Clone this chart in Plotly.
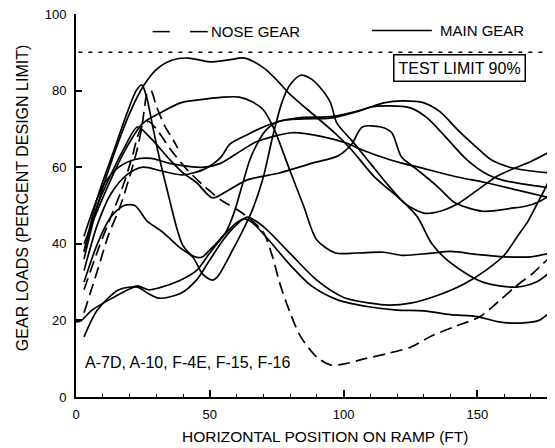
import plotly.graph_objs as go

# --- main gear curves (ft on ramp, percent of design limit) ---
plateau_x = [3, 8, 14, 20, 25, 30, 36, 42, 50, 57, 63, 70, 74, 80, 86.6, 96.6, 103, 111.6, 121.6, 127.6, 133, 140, 152, 164.5, 172, 177]
plateau_y = [36, 50, 63, 74, 81, 85.5, 88, 88.5, 87.5, 88, 88.5, 86, 83.5, 79, 75, 69, 64.5, 57.4, 51.4, 47, 40, 35, 30, 28.7, 30, 32.5]

flat37_x = [3, 10, 18, 25, 31, 39, 45, 55, 61, 66, 70, 74, 80, 85, 90, 97, 105, 115, 122, 132, 140, 150, 160, 170, 177]
flat37_y = [40, 52, 64, 71.5, 74, 76.8, 77.5, 78.3, 78.3, 77, 75, 70, 59, 50, 41, 37.6, 37.6, 37.8, 37, 37.5, 38, 37.2, 36.6, 36.6, 37.5]

decline_x = [3, 10, 16, 22, 28, 35, 42, 48, 54, 61, 67, 73.5, 81, 92, 101, 107, 117, 122, 128, 142, 153, 165, 177]
decline_y = [42, 55, 60, 62, 62.3, 61, 60.2, 60, 61, 64, 66.5, 68, 69, 68, 66.3, 64.5, 62, 61, 60, 57.5, 56, 54, 52]

bump_x = [3, 8, 13, 18, 23, 28, 35, 40, 45, 51, 57, 64, 76, 88, 98, 103, 107, 114, 118, 121.6, 127.6, 135, 141, 146, 152, 156, 162, 168, 173, 177]
bump_y = [38, 50, 58, 65, 70.5, 67.5, 62, 58.5, 56, 52, 54, 56.7, 58.5, 61, 63, 66, 70.5, 70.5, 69, 62.7, 59.3, 55, 51, 49.5, 48.5, 48.6, 49.2, 49.8, 51, 52.7]

peak84_x = [3, 8, 13, 18, 22, 26.5, 32.5, 38.8, 43.7, 47.4, 51, 53, 56, 59, 62, 66, 70, 73.5, 77, 80, 84, 88, 91, 95, 97.5, 103, 110, 117, 123, 130, 136, 143, 150, 157, 163, 170, 177]
peak84_y = [30, 40, 47, 50, 50, 46, 43, 39, 36.5, 32, 30.5, 31.5, 35, 39, 43, 49, 57.4, 68, 77, 81.5, 84, 83, 81, 77, 71.5, 67, 61, 55, 50.5, 48, 48.5, 50.6, 54, 57.5, 59.5, 61.5, 64]

hump1_x = [3, 8, 13, 19, 25, 32, 40, 48, 54, 57.5, 64, 70, 76, 85, 95, 107, 115, 122, 130, 136, 143, 150, 155, 162, 170, 177]
hump1_y = [33, 45, 53, 58, 60, 59, 58, 59.5, 62.5, 66, 68.5, 70.5, 72, 73, 73.2, 75, 76.8, 77.3, 76.8, 74.5, 69.5, 65, 62, 60, 59, 58.5]

hump2_x = [3, 8, 14, 19, 22.5, 24.6, 26.5, 28.7, 31.3, 35, 37.7, 40, 43.7, 47, 50, 53, 56, 59, 62, 65, 68, 71, 76, 85, 95, 105, 110, 117, 125, 131, 138, 146, 154, 160, 168, 177]
hump2_y = [38, 52, 64, 74, 80, 81.5, 78, 70.5, 62, 51.4, 44, 39.5, 36.8, 36.5, 38.4, 40.5, 43, 48, 55, 62, 66.5, 69.7, 72, 72.6, 72.8, 74.5, 75.7, 76, 75.5, 73, 68, 62, 58, 56.5, 55.5, 54.6]

low20_x = [0, 2, 6, 14, 20, 23, 27, 31, 39, 45, 50, 55, 60, 63, 66, 72, 80, 88, 98, 110, 120, 130, 140, 150, 158, 166, 173, 177]
low20_y = [19.6, 20, 22.7, 26, 28.2, 29, 28, 28.5, 30.5, 33, 37.6, 42, 45.5, 46.5, 45.5, 41, 34.5, 29, 25.3, 23.5, 22.7, 22.5, 21.5, 21, 19.6, 19.3, 20, 22]

low15_x = [3, 8, 16, 23, 27, 31, 39, 45, 50, 55, 60, 64, 70, 80, 90, 100, 110, 117, 125, 135, 145, 153, 160, 165, 169, 172, 175, 177]
low15_y = [15.7, 22.7, 28, 28.7, 27, 25.8, 27, 30.5, 35.8, 41, 45, 47, 44.5, 37.5, 30.5, 26, 24.5, 24, 24.5, 26.5, 29.5, 33, 37, 42, 46, 50, 54, 57]

# --- nose gear curves ---
nose_long_x = [3, 8, 13, 17, 21, 23, 25, 27, 30, 36, 42, 48, 54, 60, 65, 70, 73.5, 76, 80, 84, 90, 95, 100, 108, 116, 125, 133, 142, 151, 158, 164, 171, 177]
nose_long_y = [28, 38, 47, 54, 62.7, 68, 71, 72, 70, 64, 59, 55, 51.5, 49, 46.5, 43, 36.5, 30, 22, 15.7, 10.4, 8.4, 8.6, 10, 11.3, 13, 16, 18.5, 21, 25, 28.7, 32.5, 36.5]

nose_short_x = [3, 8, 12, 16.4, 20, 22.8, 24.6, 25.5, 26.5, 28, 30, 33, 36, 38]
nose_short_y = [22, 33, 42, 49.6, 57.4, 64.5, 70.5, 75, 79, 80, 76, 71, 67.5, 65]

main_gear = [(plateau_x, plateau_y), (flat37_x, flat37_y), (decline_x, decline_y),
             (bump_x, bump_y), (peak84_x, peak84_y), (hump1_x, hump1_y),
             (hump2_x, hump2_y), (low20_x, low20_y), (low15_x, low15_y)]
nose_gear = [(nose_long_x, nose_long_y), (nose_short_x, nose_short_y)]

test_limit = 90
x_ticks = [0, 50, 100, 150]
y_ticks = [0, 20, 40, 60, 80, 100]

FONT = "Liberation Sans"

fig = go.Figure()

for xs, ys in main_gear:
    fig.add_trace(go.Scatter(x=xs, y=ys, mode="lines",
                             line=dict(color="black", width=1.7, shape="spline", smoothing=0.8),
                             showlegend=False))
for xs, ys in nose_gear:
    fig.add_trace(go.Scatter(x=xs, y=ys, mode="lines",
                             line=dict(color="black", width=1.7, shape="spline", smoothing=0.8,
                                       dash="12px,6px"),
                             showlegend=False))

# test limit dotted line
fig.add_shape(type="line", xref="paper", yref="y", x0=0.005, x1=1, y0=test_limit, y1=test_limit,
              line=dict(color="black", width=1.5, dash="4px,6px"))

fig.add_annotation(x=0.8, y=85.8, xref="paper", yref="y", text="TEST LIMIT 90%",
                   showarrow=False, xanchor="center", yanchor="middle",
                   font=dict(family=FONT, size=16, color="black"),
                   bordercolor="black", borderwidth=1.5, borderpad=4, bgcolor="white")

fig.add_annotation(x=2.5, y=8.9, xref="x", yref="y", text="A-7D, A-10, F-4E, F-15, F-16",
                   showarrow=False, xanchor="left", yanchor="middle",
                   font=dict(family=FONT, size=16, color="black"))

# legend drawn by hand, like the original
fig.add_shape(type="line", xref="paper", yref="paper", x0=0.16, x1=0.196, y0=0.954, y1=0.954,
              line=dict(color="black", width=1.5))
fig.add_shape(type="line", xref="paper", yref="paper", x0=0.238, x1=0.275, y0=0.954, y1=0.954,
              line=dict(color="black", width=1.5))
fig.add_annotation(x=0.278, y=0.954, xref="paper", yref="paper", text="NOSE GEAR", showarrow=False,
                   xanchor="left", yanchor="middle", font=dict(family=FONT, size=15, color="black"))
fig.add_shape(type="line", xref="paper", yref="paper", x0=0.618, x1=0.743, y0=0.957, y1=0.957,
              line=dict(color="black", width=1.5))
fig.add_annotation(x=0.755, y=0.957, xref="paper", yref="paper", text="MAIN GEAR", showarrow=False,
                   xanchor="left", yanchor="middle", font=dict(family=FONT, size=15, color="black"))

# axis titles
fig.add_annotation(x=-0.11, y=0.52, xref="paper", yref="paper", text="GEAR LOADS (PERCENT DESIGN LIMIT)",
                   textangle=-90, showarrow=False, xanchor="center", yanchor="middle",
                   font=dict(family=FONT, size=16, color="black"))
fig.add_annotation(x=0.52, y=-0.102, xref="paper", yref="paper", text="HORIZONTAL POSITION ON RAMP (FT)",
                   showarrow=False, xanchor="center", yanchor="middle",
                   font=dict(family=FONT, size=15.5, color="black"))

fig.update_xaxes(range=[0, 179], tickvals=x_ticks, ticks="inside", ticklen=7, tickwidth=1.5,
                 tickcolor="black", showline=True, linecolor="black", linewidth=2,
                 showgrid=False, zeroline=False, ticklabelstandoff=4,
                 minor=dict(dtick=10, tick0=0, ticks="inside", ticklen=3, tickcolor="black", tickwidth=1),
                 tickfont=dict(family=FONT, size=13, color="black"))
fig.update_yaxes(range=[0, 100], tickvals=y_ticks, ticks="inside", ticklen=6, tickwidth=1.5,
                 tickcolor="black", showline=True, linecolor="black", linewidth=2,
                 showgrid=False, zeroline=False, ticklabeloverflow="allow", ticklabelstandoff=5,
                 tickfont=dict(family=FONT, size=13, color="black"))

# page body has an 8px margin, so the figure is made 8px smaller each way
fig.update_layout(width=547, height=440, margin=dict(l=68, r=0, t=6, b=51),
                  plot_bgcolor="white", paper_bgcolor="white", showlegend=False)

fig.write_html("out.html")
